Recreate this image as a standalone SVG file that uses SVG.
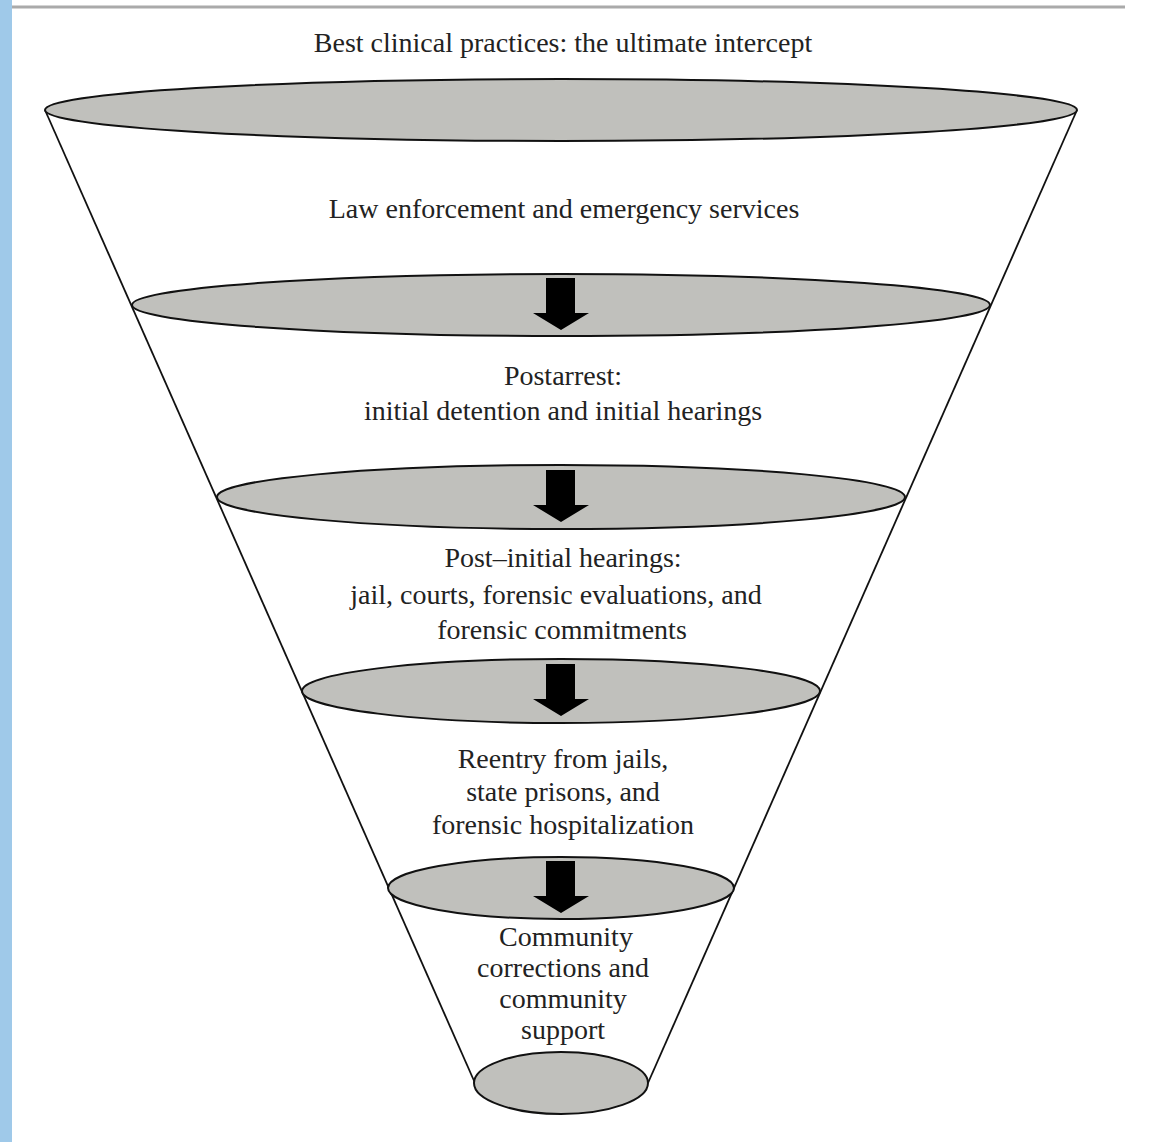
<svg xmlns="http://www.w3.org/2000/svg" width="1151" height="1142" viewBox="0 0 1151 1142">
<style>
.lvl{fill:#c0c0bc;stroke:#111;stroke-width:2}
.side{stroke:#111;stroke-width:1.8;fill:none}
.t{font-family:"Liberation Serif","DejaVu Serif",serif;font-size:28px;fill:#222;text-anchor:middle}
.arr{fill:#000}
</style>
<defs>
<path id="ar" d="M-15,-27 H14 V8 H28 L0,25 L-28,8 H-15 Z"/>
</defs>
<rect x="0" y="0" width="1151" height="1142" fill="#fff"/>
<rect x="0" y="0" width="12" height="1142" fill="#9fc9e9"/>
<line x1="12" y1="7" x2="1125" y2="7" stroke="#aaa" stroke-width="3"/>
<g id="funnel-sides">
<line class="side" x1="45" y1="110" x2="475" y2="1083"/>
<line class="side" x1="1077" y1="110" x2="648" y2="1083"/>
</g>
<g id="level0"><ellipse class="lvl" cx="561" cy="110" rx="516" ry="31"/></g>
<g id="level1"><ellipse class="lvl" cx="561" cy="305" rx="429" ry="31"/></g>
<g id="level2"><ellipse class="lvl" cx="561" cy="497" rx="344" ry="32"/></g>
<g id="level3"><ellipse class="lvl" cx="561" cy="691" rx="259" ry="32"/></g>
<g id="level4"><ellipse class="lvl" cx="561" cy="888" rx="173" ry="31"/></g>
<g id="level5"><ellipse class="lvl" cx="561" cy="1083" rx="87" ry="31"/></g>
<g id="connectors">
<use href="#ar" class="arr" x="561" y="305"/>
<use href="#ar" class="arr" x="561" y="497"/>
<use href="#ar" class="arr" x="561" y="691"/>
<use href="#ar" class="arr" x="561" y="888"/>
</g>
<g id="label-top"><text class="t" x="563" y="52">Best clinical practices: the ultimate intercept</text></g>
<g id="label-law"><text class="t" x="564" y="218">Law enforcement and emergency services</text></g>
<g id="label-postarrest">
<text class="t" x="563" y="385">Postarrest:</text>
<text class="t" x="563" y="420">initial detention and initial hearings</text>
</g>
<g id="label-postinitial">
<text class="t" x="563" y="567">Post–initial hearings:</text>
<text class="t" x="556" y="604">jail, courts, forensic evaluations, and</text>
<text class="t" x="562" y="639">forensic commitments</text>
</g>
<g id="label-reentry">
<text class="t" x="563" y="768">Reentry from jails,</text>
<text class="t" x="563" y="801">state prisons, and</text>
<text class="t" x="563" y="834">forensic hospitalization</text>
</g>
<g id="label-community">
<text class="t" x="566" y="946">Community</text>
<text class="t" x="563" y="977">corrections and</text>
<text class="t" x="563" y="1008">community</text>
<text class="t" x="563" y="1039">support</text>
</g>
</svg>
